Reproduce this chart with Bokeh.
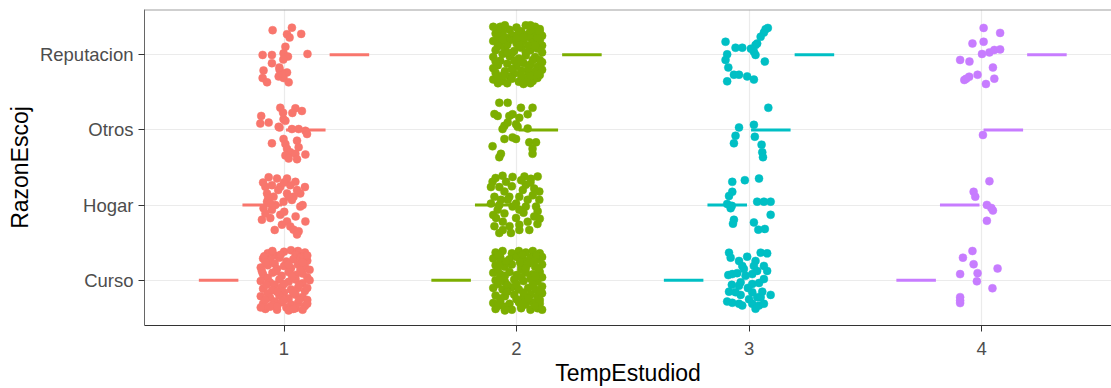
from bokeh.plotting import figure
from bokeh.models import ColumnDataSource, FixedTicker, Range1d, Span
from bokeh.embed import file_html
from bokeh.resources import INLINE

# ---------------- data ----------------
temp_levels = ["1", "2", "3", "4"]
razon_levels = ["Curso", "Hogar", "Otros", "Reputacion"]
group_colors = ["#F8766D", "#7CAE00", "#00BFC4", "#C77CFF"]

# jittered observations (dx, dy) around each (TempEstudiod, RazonEscoj) cell
t1_curso = [(-0.07,0.36),(-0.04,0.33),(0.00,0.38),(0.03,0.40),(0.06,0.39),(0.09,0.37),(0.05,0.34),
            (-0.09,0.29),(-0.06,0.27),(-0.02,0.30),(0.01,0.25),(0.04,0.28),(0.07,0.30),(0.10,0.26),(-0.04,0.22),
            (-0.10,0.17),(-0.07,0.20),(-0.03,0.15),(0.00,0.19),(0.03,0.16),(0.06,0.21),(0.09,0.18),(0.11,0.14),
            (-0.09,0.08),(-0.05,0.10),(-0.01,0.06),(0.02,0.11),(0.05,0.07),(0.08,0.09),(0.10,0.04),(-0.07,0.03),
            (-0.10,-0.01),(-0.06,-0.03),(-0.02,0.01),(0.02,-0.02),(0.05,0.01),(0.08,-0.04),(0.11,0.00),(-0.04,-0.06),
            (-0.09,-0.11),(-0.05,-0.13),(-0.01,-0.09),(0.03,-0.12),(0.06,-0.10),(0.09,-0.14),(0.00,-0.16),(-0.07,-0.17),
            (-0.10,-0.21),(-0.06,-0.23),(-0.02,-0.20),(0.02,-0.24),(0.05,-0.19),(0.08,-0.22),(0.10,-0.26),(-0.04,-0.28),
            (-0.09,-0.31),(-0.05,-0.33),(-0.01,-0.29),(0.03,-0.32),(0.06,-0.30),(0.09,-0.34),(0.01,-0.36),
            (-0.08,-0.38),(-0.03,-0.39),(0.02,-0.40),(0.05,-0.37),(0.08,-0.39),(-0.06,-0.35),
            (-0.085,0.32),(-0.015,0.34),(0.085,0.31),(-0.08,0.24),(0.02,0.21),(0.08,0.24),(-0.035,0.12),(0.07,0.13),
            (-0.095,0.12),(0.035,0.05),(-0.075,-0.06),(0.00,-0.05),(0.065,-0.06),(-0.03,-0.15),(0.04,-0.17),(0.10,-0.10),
            (-0.08,-0.26),(0.00,-0.26),(0.065,-0.26),(-0.03,-0.35),(0.04,-0.38),(0.10,-0.31),(-0.10,-0.36),(0.10,0.33),
            (-0.05,0.39)]
t1_hogar = [(-0.066,0.37),(-0.030,0.353),(0.013,0.353),(0.049,0.309),(-0.080,0.243),(-0.052,0.265),(-0.016,0.243),
            (0.027,0.265),(0.070,0.156),(-0.073,0.156),(-0.045,0.112),(0.013,0.156),(0.041,0.112),(-0.073,0.046),
            (-0.037,0.003),(-0.002,0.046),(0.034,0.068),(0.070,-0.020),(-0.088,-0.041),(-0.052,-0.063),(-0.016,-0.129),
            (-0.095,-0.194),(-0.059,-0.172),(0.013,-0.217),(0.092,-0.217),(-0.009,-0.260),(0.027,-0.283),(0.063,-0.348),
            (0.041,-0.326),(0.056,0.200),(0.020,0.112),(0.056,-0.39),(-0.068,0.095),(-0.025,0.200),(0.001,-0.089),
            (-0.09,0.30),(0.00,0.30),(0.09,0.24),(-0.06,0.02),(0.05,-0.15),(-0.04,-0.33),(0.08,0.00),(-0.08,-0.11)]
t1_otros = [(-0.016,0.294),(0.049,0.286),(0.077,0.251),(-0.098,0.185),(-0.102,0.084),(-0.066,0.097),(-0.002,0.142),
            (0.006,0.120),(-0.019,0.032),(0.034,0.011),(0.063,0.011),(0.092,-0.012),(0.099,-0.055),(-0.052,-0.179),
            (-0.002,-0.121),(0.006,-0.187),(0.056,-0.143),(0.063,-0.231),(0.013,-0.252),(0.027,-0.297),(0.006,-0.340),
            (0.049,-0.318),(0.092,-0.327),(0.020,-0.38),(0.056,-0.39),(-0.004,0.229),(-0.023,0.041),(0.036,0.225)]
t1_reput = [(-0.049,0.325),(0.034,0.359),(0.013,0.272),(0.024,0.227),(0.074,0.276),(0.006,0.105),(-0.002,0.017),
            (0.017,-0.026),(-0.092,-0.004),(-0.052,-0.004),(0.101,0.009),(-0.052,-0.114),(-0.088,-0.210),(-0.019,-0.201),
            (0.013,-0.237),(-0.092,-0.311),(-0.073,-0.368),(-0.023,-0.289),(-0.002,-0.311),(0.020,-0.368),(-0.009,-0.246),
            (-0.003,-0.066),(-0.020,-0.171)]

t2_curso = [(-0.09,0.37),(-0.06,0.39),(-0.02,0.36),(0.01,0.39),(0.04,0.37),(0.07,0.39),(0.10,0.36),
            (-0.10,0.29),(-0.07,0.31),(-0.03,0.28),(0.00,0.31),(0.03,0.27),(0.06,0.30),(0.09,0.28),(0.11,0.31),
            (-0.09,0.20),(-0.05,0.18),(-0.02,0.21),(0.02,0.19),(0.05,0.22),(0.08,0.18),(0.11,0.21),(-0.07,0.24),
            (-0.10,0.10),(-0.07,0.08),(-0.03,0.11),(0.00,0.07),(0.04,0.10),(0.07,0.08),(0.10,0.11),(0.02,0.14),
            (-0.09,0.00),(-0.05,-0.02),(-0.01,0.01),(0.03,-0.01),(0.06,0.02),(0.09,-0.02),(0.11,0.04),(-0.07,0.04),
            (-0.10,-0.10),(-0.06,-0.12),(-0.02,-0.09),(0.01,-0.12),(0.05,-0.10),(0.08,-0.12),(0.11,-0.08),(-0.04,-0.06),
            (-0.09,-0.20),(-0.05,-0.21),(-0.01,-0.19),(0.03,-0.22),(0.06,-0.19),(0.09,-0.21),(0.11,-0.17),(0.00,-0.25),
            (-0.10,-0.30),(-0.07,-0.28),(-0.03,-0.31),(0.01,-0.29),(0.04,-0.32),(0.07,-0.29),(0.10,-0.31),(-0.05,-0.35),
            (-0.09,-0.38),(-0.02,-0.39),(0.02,-0.37),(0.06,-0.39),(0.09,-0.37),(0.04,-0.26),
            (-0.08,0.34),(0.025,0.34),(0.085,0.33),(-0.045,0.25),(0.015,0.24),(0.075,0.25),(-0.08,0.15),(0.04,0.16),
            (0.095,0.15),(-0.05,0.06),(0.02,0.04),(0.08,0.05),(-0.08,-0.05),(0.00,-0.05),(0.07,-0.06),(-0.04,-0.15),
            (0.03,-0.16),(0.10,-0.13),(-0.07,-0.24),(0.05,-0.24),(0.10,-0.26),(-0.08,-0.34),(0.02,-0.34),(0.08,-0.34),
            (-0.05,-0.40),(0.11,-0.39)]
t2_hogar = [(-0.060,0.39),(-0.103,0.31),(-0.017,0.375),(0.034,0.38),(0.091,0.38),(-0.074,0.24),(-0.052,0.18),
            (0.040,0.27),(0.076,0.22),(0.098,0.18),(-0.095,0.11),(-0.067,0.07),(-0.031,0.11),(0.012,0.11),(0.048,0.07),
            (0.084,-0.02),(0.091,-0.08),(-0.110,0.02),(-0.081,-0.06),(-0.052,-0.11),(-0.017,-0.02),(0.012,-0.06),
            (0.040,-0.02),(-0.088,-0.17),(-0.059,-0.22),(-0.002,-0.17),(0.048,-0.22),(0.076,-0.15),(-0.095,-0.28),
            (-0.074,-0.37),(-0.024,-0.37),(0.012,-0.33),(0.055,-0.33),(-0.038,0.07),(-0.002,0.02),(-0.074,0.00),
            (0.027,0.20),(-0.045,0.31),(0.062,0.35),(-0.110,0.24),(0.098,0.07),(0.012,-0.26),(-0.059,-0.33),
            (-0.09,0.36),(0.06,0.30),(-0.02,0.25),(0.07,0.13),(-0.10,-0.13),(0.03,-0.10),(0.09,-0.25),(-0.03,-0.28),
            (0.02,0.33),(0.10,-0.18)]
t2_otros = [(-0.074,0.36),(-0.038,0.36),(0.019,0.294),(0.069,0.294),(0.048,0.208),(-0.081,0.185),(-0.031,0.185),
            (-0.017,0.208),(-0.002,0.076),(-0.052,0.054),(-0.038,0.097),(-0.060,0.011),(0.005,0.041),(0.048,0.018),
            (-0.052,-0.121),(-0.017,-0.100),(-0.002,-0.121),(-0.103,-0.218),(-0.067,-0.318),(-0.074,-0.363),
            (0.055,-0.166),(0.084,-0.166),(0.069,-0.252),(0.069,-0.318),(-0.095,0.21),(0.012,0.16)]
t2_reput = [(-0.07,0.37),(0.00,0.36),(0.04,0.39),(0.08,0.37),(0.10,0.34),(-0.03,0.33),(0.02,0.31),
            (-0.09,0.28),(-0.06,0.30),(-0.02,0.26),(0.01,0.29),(0.05,0.27),(0.08,0.29),(0.11,0.25),(-0.05,0.23),(0.06,0.22),
            (-0.10,0.18),(-0.07,0.16),(-0.03,0.19),(0.00,0.15),(0.03,0.18),(0.07,0.16),(0.10,0.19),(0.11,0.12),(-0.08,0.11),
            (-0.09,0.06),(-0.05,0.08),(-0.01,0.05),(0.02,0.09),(0.06,0.06),(0.09,0.08),(0.11,0.03),(-0.06,0.01),
            (-0.10,-0.03),(-0.03,-0.02),(0.01,-0.05),(0.04,-0.01),(0.08,-0.03),(0.10,-0.07),(-0.07,-0.08),
            (-0.08,-0.14),(-0.04,-0.12),(0.00,-0.15),(0.03,-0.11),(0.06,-0.13),(0.09,-0.16),(-0.10,-0.18),(0.11,-0.10),
            (-0.09,-0.24),(-0.05,-0.22),(-0.01,-0.25),(0.02,-0.21),(0.05,-0.24),(0.08,-0.22),(0.10,-0.27),(-0.03,-0.29),
            (-0.10,-0.33),(-0.06,-0.35),(-0.02,-0.32),(0.01,-0.36),(0.04,-0.33),(0.07,-0.35),(0.09,-0.31),(0.03,-0.39),(-0.04,-0.38),
            (-0.08,0.33),(0.06,0.32),(-0.04,0.13),(0.05,0.12),(-0.01,-0.08),(0.07,-0.07),(-0.06,-0.28),(0.06,-0.28),(0.00,0.22),(-0.02,0.02),
            (-0.10,0.37),(-0.05,0.39),(0.06,0.39),(0.10,0.30),(-0.08,0.24),(0.03,0.23),(0.09,0.22),(-0.06,0.20),
            (0.01,0.12),(0.08,0.12),(-0.04,0.03),(0.04,0.03),(-0.09,-0.09),(0.02,-0.09),(-0.02,-0.19),(0.05,-0.18),
            (0.11,-0.20),(-0.08,-0.29),(0.02,-0.28),(0.09,-0.26),(-0.08,-0.38),(0.06,-0.38)]

t3_curso = [(-0.086,0.368),(-0.079,0.302),(0.050,0.368),(0.078,0.359),(-0.008,0.315),(-0.043,0.258),(-0.029,0.192),
            (0.028,0.258),(0.021,0.192),(0.064,0.192),(0.078,0.126),(-0.089,0.070),(-0.072,0.083),(-0.051,0.096),
            (-0.015,0.060),(0.014,0.083),(0.035,0.126),(-0.036,-0.026),(-0.043,-0.071),(0.014,-0.049),(0.064,0.017),
            (-0.086,-0.150),(-0.036,-0.193),(-0.058,-0.158),(0.014,-0.158),(0.035,-0.223),(0.093,-0.193),(-0.094,-0.281),
            (-0.072,-0.298),(-0.043,-0.311),(-0.029,-0.334),(0.014,-0.311),(0.043,-0.334),(0.028,-0.377),(0.064,-0.311),
            (0.050,-0.223),(0.057,-0.150),(-0.005,-0.10),(0.043,-0.035),(-0.074,-0.06),(-0.022,0.15),(0.000,-0.25)]
t3_hogar = [(-0.072,0.309),(-0.018,0.331),(0.043,0.353),(-0.072,0.177),(-0.086,0.121),(-0.094,0.016),(-0.079,-0.041),
            (-0.065,-0.194),(-0.069,-0.247),(0.035,0.046),(0.064,0.046),(0.093,0.046),(0.093,-0.129),(0.021,-0.230),
            (0.040,-0.326),(0.068,-0.317),(-0.074,-0.010)]
t3_otros = [(0.083,0.294),(-0.043,0.032),(0.021,0.067),(-0.058,-0.078),(-0.065,-0.179),(0.025,-0.091),(0.054,-0.196),
            (0.057,-0.297),(0.060,-0.363)]
t3_reput = [(-0.101,0.171),(-0.058,0.092),(-0.029,0.092),(0.071,0.338),(0.064,0.293),(0.050,0.237),(0.035,0.148),
            (0.028,0.127),(0.021,0.039),(0.028,-0.004),(-0.094,0.004),(-0.101,-0.070),(0.068,-0.092),(-0.089,-0.171),
            (-0.065,-0.267),(-0.043,-0.267),(-0.008,-0.289),(0.021,-0.332),(-0.094,-0.355),(0.081,0.355),(0.008,0.079)]

t4_curso = [(-0.039,0.39),(-0.080,0.302),(-0.034,0.214),(0.069,0.158),(-0.092,0.083),(-0.017,0.096),(-0.020,-0.013),
            (0.047,-0.105),(-0.092,-0.223),(-0.092,-0.268),(-0.092,-0.302)]
t4_hogar = [(0.034,0.318),(-0.034,0.177),(-0.027,0.112),(0.023,0.003),(0.049,-0.072),(0.023,-0.208),(0.042,-0.037)]
t4_otros = [(0.006,-0.068)]
t4_reput = [(0.009,0.355),(0.080,0.289),(-0.039,0.148),(0.009,0.171),(0.002,0.009),(0.034,0.030),(0.055,0.062),
            (0.080,0.070),(-0.092,-0.070),(-0.052,-0.092),(0.049,-0.171),(-0.017,-0.267),(-0.053,-0.293),(-0.074,-0.337),
            (0.055,-0.319),(0.019,-0.39),(-0.066,-0.32)]

cells = [
    [t1_curso, t1_hogar, t1_otros, t1_reput],
    [t2_curso, t2_hogar, t2_otros, t2_reput],
    [t3_curso, t3_hogar, t3_otros, t3_reput],
    [t4_curso, t4_hogar, t4_otros, t4_reput],
]

# ---------------- build sources ----------------
px, py, pc = [], [], []
for gi, row in enumerate(cells):
    for li, pts in enumerate(row):
        for dx, dy in pts:
            px.append(gi + 1 + dx)
            py.append(li + 1 + dy)
            pc.append(group_colors[gi])
pts_src = ColumnDataSource(dict(x=px, y=py, c=pc))

dodge = [-0.28125, -0.09375, 0.09375, 0.28125]
half = 0.085
sx0, sx1, sy, sc = [], [], [], []
for gi in range(len(temp_levels)):
    for li in range(len(razon_levels)):
        cx = gi + 1 + dodge[li]
        sx0.append(cx - half)
        sx1.append(cx + half)
        sy.append(li + 1)
        sc.append(group_colors[gi])
seg_src = ColumnDataSource(dict(x0=sx0, x1=sx1, y=sy, c=sc))

# ---------------- figure ----------------
FONT = "Liberation Sans"
p = figure(width=1111, height=388, output_backend="svg", toolbar_location=None,
           x_range=Range1d(0.4, 4.559), y_range=Range1d(0.4, 4.6),
           min_border_left=144, min_border_right=0, min_border_top=9, min_border_bottom=62)
p.outline_line_color = None
p.background_fill_color = "white"
p.border_fill_color = "white"

p.scatter("x", "y", source=pts_src, size=8, fill_color="c", line_color="c", line_width=0.5)
p.segment(x0="x0", y0="y", x1="x1", y1="y", source=seg_src, line_color="c", line_width=3)

p.add_layout(Span(location=4.6, dimension="width", line_color="#A0A0A0", line_width=2))

p.xaxis.ticker = FixedTicker(ticks=[1, 2, 3, 4])
p.xaxis.major_label_overrides = {i + 1: t for i, t in enumerate(temp_levels)}
p.yaxis.ticker = FixedTicker(ticks=[1, 2, 3, 4])
p.yaxis.major_label_overrides = {i + 1: t for i, t in enumerate(razon_levels)}
p.xaxis.axis_label = "TempEstudiod"
p.yaxis.axis_label = "RazonEscoj"

for ax in (p.xaxis[0], p.yaxis[0]):
    ax.major_label_text_font = FONT
    ax.major_label_text_font_size = "18.5px"
    ax.major_label_text_color = "#4D4D4D"
    ax.axis_label_text_font = FONT
    ax.axis_label_text_font_size = "23px"
    ax.axis_label_text_font_style = "normal"
    ax.axis_label_text_color = "black"
    ax.minor_tick_line_color = None
    ax.major_tick_in = 0
    ax.major_tick_out = 6
    ax.major_tick_line_color = "#333333"
p.xaxis.axis_line_color = "#333333"
p.yaxis.axis_line_color = "#666666"
p.xaxis.major_label_standoff = 10
p.xaxis.axis_label_standoff = 2
p.yaxis.major_label_standoff = 5
p.yaxis.axis_label_standoff = 4

p.xgrid.grid_line_color = "#EBEBEB"
p.ygrid.grid_line_color = "#EBEBEB"
p.xgrid.grid_line_width = 1.2
p.ygrid.grid_line_width = 1.2

open("out.html", "w").write(file_html(p, INLINE))
